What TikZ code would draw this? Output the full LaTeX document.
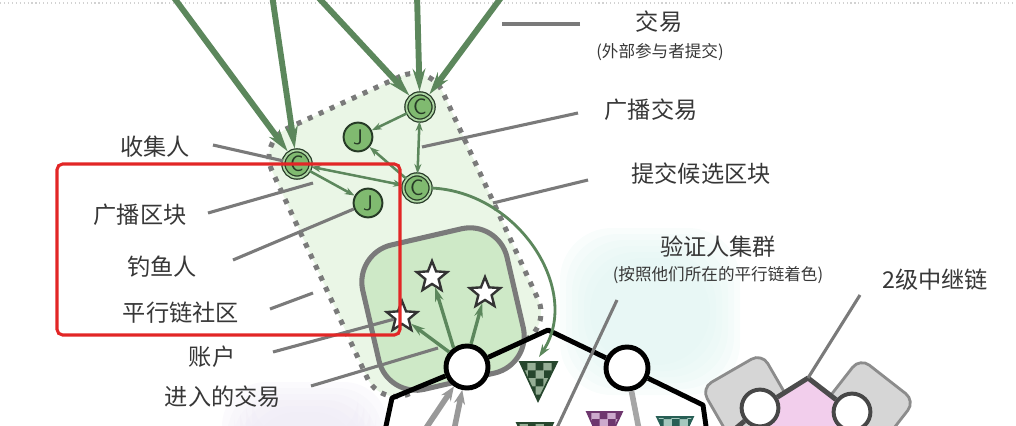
\documentclass[tikz,border=0pt]{standalone}
\usepackage{fontspec}
\newfontfamily\cjk{Noto Sans CJK SC}
\usetikzlibrary{arrows.meta, shapes.geometric, patterns}

\definecolor{txgreen}{RGB}{92,135,92}
\definecolor{nodegreen}{RGB}{128,186,112}
\definecolor{ringdark}{RGB}{38,58,38}
\definecolor{ringlight}{RGB}{175,215,165}
\definecolor{areagreen}{RGB}{234,246,230}
\definecolor{poolgreen}{RGB}{206,233,199}
\definecolor{leadgray}{RGB}{122,122,122}
\definecolor{labelgray}{RGB}{55,55,55}
\definecolor{boxred}{RGB}{226,38,38}
\definecolor{relaygray}{RGB}{214,214,214}
\definecolor{relaypink}{RGB}{242,206,236}
\definecolor{blobcyan}{RGB}{226,245,242}
\definecolor{bloblav}{RGB}{236,232,244}
\definecolor{blkdark}{RGB}{38,70,45}
\definecolor{blkdarklight}{RGB}{150,175,150}
\definecolor{blkpurple}{RGB}{110,55,110}
\definecolor{blkpurplelight}{RGB}{205,170,205}
\definecolor{blkteal}{RGB}{40,95,85}
\definecolor{blktteallight}{RGB}{165,200,190}

\begin{document}
\begin{tikzpicture}
        [x=0.025cm, y=-0.025cm,
        cnode/.style={circle, draw=ringdark, double=ringlight, double distance=1.3pt, line width=0.9pt, fill=nodegreen, minimum size=0.68cm, inner sep=0pt, text=ringdark, font=\sffamily\fontsize{16}{16}\selectfont},
        jnode/.style={circle, draw=ringdark, line width=1.4pt, fill=nodegreen, minimum size=0.72cm, inner sep=0pt, text=ringdark, font=\sffamily\fontsize{15}{15}\selectfont},
        hexnode/.style={circle, draw=black, line width=3.5pt, fill=white, minimum size=1.05cm},
        relaynode/.style={circle, draw=black!72, line width=2.8pt, fill=white, minimum size=0.92cm},
        validator/.style={star, star points=5, star point ratio=2.3, draw=black!80, line width=1.7pt, fill=white, minimum size=0.8cm, inner sep=0pt},
        relaysq/.style={draw=black!45, line width=2pt, fill=relaygray, rounded corners=0.3cm, minimum size=1.75cm},
        blockdark/.style={draw=blkdark, line width=1.2pt, preaction={fill=blkdarklight}, pattern=checkerboard, pattern color=blkdark},
        blockpurple/.style={draw=blkpurple, line width=1.2pt, preaction={fill=blkpurplelight}, pattern=checkerboard, pattern color=blkpurple},
        blockteal/.style={draw=blkteal, line width=1.2pt, preaction={fill=blktteallight}, pattern=checkerboard, pattern color=blkteal},
        lbl/.style={font=\cjk\fontsize{16.5}{18}\selectfont, text=labelgray},
        smalllbl/.style={font=\cjk\fontsize{11.8}{13}\selectfont, text=labelgray},
        leader/.style={leadgray, line width=2.2pt},
        txarrow/.style={txgreen, line width=4.2pt, -{Stealth[length=16pt, width=9pt]}, shorten >=1pt},
        msg/.style={txgreen, line width=1.8pt, -{Stealth[length=7pt, width=5pt]}},
        msgboth/.style={txgreen, line width=1.8pt, {Stealth[length=7pt, width=5pt]}-{Stealth[length=7pt, width=5pt]}},
        vote/.style={txgreen, line width=2.4pt, -{Stealth[length=10pt, width=6pt]}},
        incoming/.style={gray!80, line width=4pt, -{Stealth[length=10pt, width=8pt]}},
        hexline/.style={black, line width=3.5pt, line join=round},
        relaylink/.style={black!70, line width=3.5pt, line join=round}]

        \useasboundingbox (0,0) rectangle (1016,426);
        \clip (0,0) rectangle (1016,426);

        % faint rule at the top
        \draw[gray!35, dotted, line width=0.8pt] (0,3) -- (1016,3);

        % soft background blobs
        \foreach \d in {0,6,...,30} {
            \fill[blobcyan, opacity=0.22, rounded corners=1.3cm] (560+\d,228+\d) rectangle (740-\d,395-\d);
            \fill[bloblav, opacity=0.2, rounded corners=1.1cm] (222+\d,382+\d) rectangle (388-\d,470-\d);
        }

        % parachain community (dotted) and validator pool
        \node[draw=leadgray, fill=areagreen, line width=3.6pt, dash pattern=on 3.6pt off 5pt, rounded corners=0.8cm, rotate=24.7, minimum width=4.7cm, minimum height=7.3cm] (community) at (405,235) {};
        \node[draw=leadgray, fill=poolgreen, line width=3.6pt, rounded corners=0.95cm, rotate=13, minimum size=3.7cm] (pool) at (443,309) {};

        % relay chain level 2
        \node[relaysq, rotate=30] (sq1) at (749,401) {};
        \node[relaysq, rotate=-38] (sq2) at (866,407) {};
        \fill[relaypink] (760,408) -- (808,378) -- (852,412) -- (845,440) -- (772,440) -- cycle;
        \node[relaynode] (r1) at (760,408) {};
        \node[relaynode] (r2) at (852,412) {};
        \coordinate (rtop) at (808,378);
        \coordinate (rout) at (722,440);
        \draw[relaylink] (r1) -- (rtop) -- (r2);
        \draw[relaylink] (r1) -- (rout);

        % validator ring
        \node[hexnode] (n1) at (467,367) {};
        \node[hexnode] (n2) at (627,368) {};
        \coordinate (hbl) at (383,440);
        \coordinate (hl) at (392,398);
        \coordinate (htop) at (548,330);
        \coordinate (hr) at (703,405);
        \coordinate (hbr) at (708,440);
        \draw[hexline] (hbl) -- (hl) -- (n1) -- (htop) -- (n2) -- (hr) -- (hbr);

        % incoming transactions from below
        \coordinate (in1) at (418,440);
        \coordinate (in2) at (452,440);
        \coordinate (in3) at (641,440);
        \draw[incoming] (in1) -- (n1);
        \draw[incoming] (in2) -- (n1);
        \draw[gray!70, line width=4pt] (in3) -- (n2);

        % candidate blocks (checkered)
        \coordinate (blk) at (539,357);
        \draw[blockdark] (520,362) -- (557,362) -- (538,401) -- cycle;
        \draw[blockdark] (517,423) -- (553,423) -- (535,462) -- cycle;
        \draw[blockpurple] (587,412) -- (622,412) -- (604,450) -- cycle;
        \draw[blockteal] (657,417) -- (693,417) -- (675,455) -- cycle;

        % accounts
        \node[validator] (s1) at (432,277) {};
        \node[validator] (s2) at (485,293) {};
        \node[validator] (s3) at (402,317) {};
        \draw[vote] (n1.125) -- (s1);
        \draw[vote] (n1.80) -- (s2);
        \draw[vote] (n1.140) -- (s3);

        % collators and fishermen
        \node[cnode] (c1) at (297,164) {C};
        \node[cnode] (c2) at (420,107) {C};
        \node[cnode] (c3) at (417,188) {C};
        \node[jnode] (j1) at (358,137) {J};
        \node[jnode] (j2) at (368,203) {J};

        \draw[msg] (c2) -- (j1);
        \draw[msg] (c3) -- (j1);
        \draw[msgboth] (c2) -- (c3);
        \draw[msgboth] (c1) -- (c3);
        \draw[msg] (c1) -- (j2);
        \draw[txgreen, line width=2pt, -{Stealth[length=9pt, width=6pt]}] (c3.east) .. controls (520,192) and (582,292) .. (blk);

        % transactions from outside
        \coordinate (src1) at (172,-5);
        \coordinate (src2) at (272,-5);
        \coordinate (src3) at (316,-5);
        \coordinate (src4) at (417,-5);
        \coordinate (src5) at (503,-5);
        \draw[txarrow] (src1) -- (c1);
        \draw[txarrow] (src2) -- (c1);
        \draw[txarrow] (src3) -- (c2);
        \draw[txarrow] (src4) -- (c2);
        \draw[txarrow] (src5) -- (c2);

        % labels
        \node[lbl] (t-tx) at (659,22) {交易};
        \node[smalllbl] (t-txsub) at (660,52) {(外部参与者提交)};
        \node[lbl] (t-bctx) at (651,110) {广播交易};
        \node[lbl] (t-cand) at (701,174) {提交候选区块};
        \node[lbl] (t-coll) at (155,147) {收集人};
        \node[lbl] (t-bcblk) at (140,215) {广播区块};
        \node[lbl] (t-fish) at (162,267) {钓鱼人};
        \node[lbl] (t-comm) at (181,313) {平行链社区};
        \node[lbl] (t-acct) at (212,357) {账户};
        \node[lbl] (t-intx) at (223,397) {进入的交易};
        \node[lbl] (t-val) at (718,247) {验证人集群};
        \node[smalllbl] (t-valsub) at (718,275) {(按照他们所在的平行链着色)};
        \node[lbl] (t-relay) at (935,280) {2级中继链};

        % leader lines
        \coordinate (a-tx) at (580,24);   \coordinate (b-tx) at (502,24);
        \coordinate (a-bctx) at (578,113); \coordinate (b-bctx) at (422,147);
        \coordinate (a-cand) at (588,180); \coordinate (b-cand) at (493,203);
        \coordinate (a-coll) at (213,145);
        \coordinate (a-bcblk) at (208,213); \coordinate (b-bcblk) at (313,183);
        \coordinate (a-fish) at (233,260);
        \coordinate (a-comm) at (270,309); \coordinate (b-comm) at (313,293);
        \coordinate (a-acct) at (273,352);
        \coordinate (a-intx) at (311,386); \coordinate (b-intx) at (438,348);
        \coordinate (a-val) at (617,300);  \coordinate (b-val) at (555,432);
        \coordinate (a-relay) at (860,295);
        \draw[leader] (a-tx) -- (b-tx);
        \draw[leader] (a-bctx) -- (b-bctx);
        \draw[leader] (a-cand) -- (b-cand);
        \draw[leader] (a-coll) -- (c1);
        \draw[leader] (a-bcblk) -- (b-bcblk);
        \draw[leader] (a-fish) -- (j2);
        \draw[leader] (a-comm) -- (b-comm);
        \draw[leader] (a-acct) -- (s3);
        \draw[leader] (a-intx) -- (b-intx);
        \draw[leader] (a-val) -- (b-val);
        \draw[leader] (a-relay) -- (rtop);

        % highlight box
        \draw[boxred, line width=2.2pt, rounded corners=4pt] (57,164) rectangle (400,335);

\end{tikzpicture}
\end{document}
